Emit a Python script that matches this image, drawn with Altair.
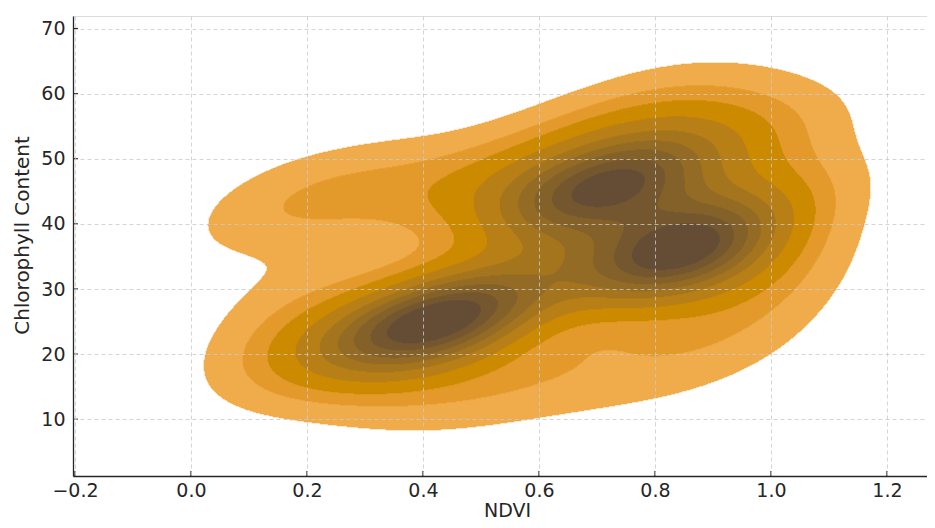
import numpy as np
import pandas as pd
import altair as alt

# Estimated sample of (NDVI, Chlorophyll) observations read from the density shape
ndvi = [0.36, 0.38, 0.40, 0.42, 0.44, 0.46, 0.48, 0.41, 0.43, 0.39, 0.45, 0.42, 0.35, 0.49, 0.40,
        0.62, 0.65, 0.68, 0.71, 0.74, 0.77, 0.80, 0.82, 0.70, 0.76, 0.79, 0.73, 0.66, 0.74,
        0.60, 0.64,
        0.80, 0.83, 0.86, 0.84, 0.81, 0.87, 0.85, 0.82, 0.88, 0.83, 0.79, 0.86, 0.80, 0.84, 0.82,
        0.56, 0.62, 0.54, 0.66,
        0.12, 0.18, 0.27, 0.34, 0.42,
        0.17, 0.21, 0.24, 0.28, 0.20, 0.18,
        0.36, 0.46, 0.56, 0.66, 0.78, 0.90,
        0.94, 0.97, 0.98, 0.96, 1.00, 0.96, 0.93, 0.86, 0.97, 1.01, 1.03,
        0.50, 0.58, 0.66, 0.74, 0.82, 0.52]
chlorophyll = [25, 26, 25, 24, 26, 25, 25, 23, 27, 24, 24, 26, 24, 26, 27,
               42, 43, 44, 45, 46, 47, 48, 48, 47, 49, 46, 44, 45, 48,
               42, 44,
               35, 37, 36, 34, 38, 38, 39, 33, 35, 36, 37, 33, 32, 36, 35,
               30, 32, 27, 35,
               41, 45, 44, 47, 44,
               22, 24, 20, 18, 19, 30,
               15, 14, 16, 17, 18, 20,
               42, 38, 45, 30, 34, 52, 57, 55, 26, 54, 44,
               47, 50, 53, 56, 59, 44]

x_ticks = [-0.2, 0.0, 0.2, 0.4, 0.6, 0.8, 1.0, 1.2]
y_ticks = [10, 20, 30, 40, 50, 60, 70]
band_colors = ["#F0AB4C", "#E49B2B", "#CC8A00", "#B87F17", "#A6761F",
               "#956C26", "#85632A", "#76582F", "#654F35"]

X_MIN, X_MAX = -0.2034, 1.269
Y_MIN, Y_MAX = 1.29, 71.92
W, H = 854, 460

# --- Gaussian KDE (Scott's rule, full covariance) ---
data = np.vstack([ndvi, chlorophyll]).astype(float)
n = data.shape[1]
factor = n ** (-1.0 / 6.0)
cov = np.cov(data) * factor ** 2
inv = np.linalg.inv(cov)

nx, ny = W, H
xs = np.linspace(X_MIN, X_MAX, nx + 1)
ys = np.linspace(Y_MIN, Y_MAX, ny + 1)
xc = (xs[:-1] + xs[1:]) / 2
yc = (ys[:-1] + ys[1:]) / 2
GX, GY = np.meshgrid(xc, yc)
dens = np.zeros_like(GX)
for i in range(n):
    dx = GX - data[0, i]
    dy = GY - data[1, i]
    q = inv[0, 0] * dx * dx + 2 * inv[0, 1] * dx * dy + inv[1, 1] * dy * dy
    dens += np.exp(-0.5 * q)

# iso-proportion levels like seaborn (thresh=0.05, levels=10)
vals = np.sort(dens.ravel())[::-1]
cum = np.cumsum(vals) / vals.sum()
props = np.linspace(0.05, 1, 10)
idx = np.searchsorted(cum, 1 - props)
levels = np.take(vals, idx, mode="clip")
band = np.searchsorted(levels, dens, side="right") - 1
band = np.clip(band, -1, 8)

rows = []
for j in range(ny):
    r = band[j]
    start = 0
    for i in range(1, nx + 1):
        if i == nx or r[i] != r[start]:
            if r[start] >= 0:
                rows.append({"x": xs[start], "x2": xs[i], "y": ys[j], "y2": ys[j + 1],
                             "band": int(r[start])})
            start = i
df = pd.DataFrame(rows)

xscale = alt.Scale(domain=[X_MIN, X_MAX], nice=False, zero=False)
yscale = alt.Scale(domain=[Y_MIN, Y_MAX], nice=False, zero=False)
cscale = alt.Scale(domain=list(range(9)), range=band_colors)

axis_common = dict(labelFont="DejaVu Sans", titleFont="DejaVu Sans", labelFontSize=19,
                   labelColor="#262626", titleColor="#262626",
                   titleFontWeight="normal", tickSize=0, domainColor="#262626",
                   domainWidth=1.3, grid=True, gridColor="#c9c9c9", gridDash=[4, 3],
                   gridWidth=0.8, zindex=1)

density = alt.Chart(df).mark_rect(strokeWidth=0.6, clip=True).encode(
    x=alt.X("x:Q", scale=xscale,
            axis=alt.Axis(values=x_ticks, format=".1f", title="NDVI", labelPadding=5,
                          titleFontSize=19, titleX=434, titleY=40,
                          titleBaseline="alphabetic", **axis_common)),
    x2="x2:Q",
    y=alt.Y("y:Q", scale=yscale,
            axis=alt.Axis(values=y_ticks, format="d", title="Chlorophyll Content",
                          labelPadding=8, titleFontSize=20, titleX=-51, titleY=219,
                          titleAngle=-90, titleBaseline="middle", titleAlign="center",
                          **axis_common)),
    y2="y2:Q",
    color=alt.Color("band:O", scale=cscale, legend=None),
    stroke=alt.Stroke("band:O", scale=cscale, legend=None),
)

xt = pd.DataFrame({"t": x_ticks})
yt = pd.DataFrame({"t": y_ticks})
xtick_marks = alt.Chart(xt).mark_rule(color="#262626", strokeWidth=1.2).encode(
    x=alt.X("t:Q", scale=xscale), y=alt.value(H - 5), y2=alt.value(H))
ytick_marks = alt.Chart(yt).mark_rule(color="#262626", strokeWidth=1.2).encode(
    y=alt.Y("t:Q", scale=yscale), x=alt.value(0), x2=alt.value(5))

chart = alt.layer(density, xtick_marks, ytick_marks).properties(
    width=W, height=H,
    autosize=alt.AutoSizeParams(type="none"),
    padding={"left": 65, "top": 8, "right": 0, "bottom": 44},
).configure_view(strokeWidth=0, stroke="transparent").configure(background="white")

chart.save("out.html", embed_options={"renderer": "svg", "actions": False})
